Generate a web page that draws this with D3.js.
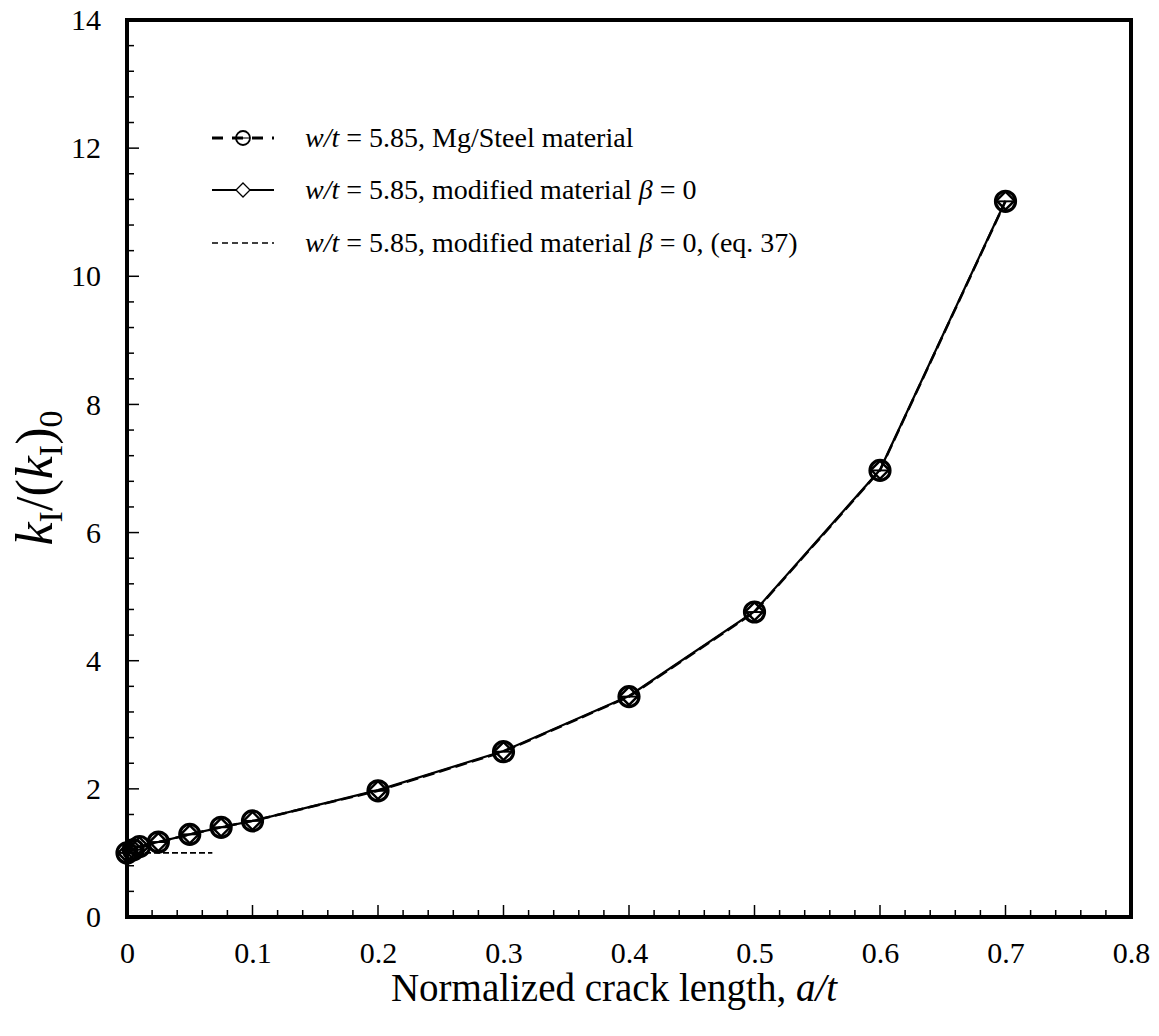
<!DOCTYPE html>
<html><head><meta charset="utf-8">
<script src="https://cdn.jsdelivr.net/npm/d3@7"></script>
<style>body{margin:0;background:#fff}svg{display:block}text{font-family:"Liberation Serif","Times New Roman",serif;fill:#000}</style>
</head><body>
<script>
const xValues = [0, 0.005, 0.01, 0.025, 0.05, 0.075, 0.1, 0.2, 0.3, 0.4, 0.5, 0.6, 0.7];
const mgSteel = [1.0, 1.05, 1.1, 1.17, 1.29, 1.40, 1.50, 1.97, 2.58, 3.44, 4.76, 6.97, 11.17];
const modified = [1.0, 1.05, 1.1, 1.17, 1.29, 1.40, 1.50, 1.98, 2.59, 3.45, 4.77, 6.98, 11.18];
const eq37X = [0, 0.068];
const eq37Y = [1.0, 1.0];
const xTicks = [0, 0.1, 0.2, 0.3, 0.4, 0.5, 0.6, 0.7, 0.8];
const yTicks = [0, 2, 4, 6, 8, 10, 12, 14];
const legendLabels = ["Mg/Steel material", "modified material ", "modified material "];

const W = 1159, H = 1036;
const L = 127, R = 1131, T = 20, B = 917;
const svg = d3.select("body").append("svg").attr("width", W).attr("height", H);
const x = d3.scaleLinear().domain([0, 0.8]).range([L, R]);
const y = d3.scaleLinear().domain([0, 14]).range([B, T]);

// minor ticks
const xMinor = d3.range(0, 0.8001, 0.02);
const yMinor = d3.range(0, 14.001, 0.4);
svg.append("g").selectAll("line").data(xMinor).join("line")
  .attr("x1", d => x(d)).attr("x2", d => x(d))
  .attr("y1", B).attr("y2", d => B - (Math.abs(d*10 - Math.round(d*10)) < 1e-6 ? 12 : 7))
  .attr("stroke", "#000").attr("stroke-width", 1.5);
svg.append("g").selectAll("line").data(yMinor).join("line")
  .attr("y1", d => y(d)).attr("y2", d => y(d))
  .attr("x1", L).attr("x2", d => L + (Math.abs(d/2 - Math.round(d/2)) < 1e-6 ? 12 : 7))
  .attr("stroke", "#000").attr("stroke-width", 1.5);

// axes labels via d3 axes (ticks hidden)
const xAxis = svg.append("g").attr("transform", `translate(0,${B})`)
  .call(d3.axisBottom(x).tickValues(xTicks).tickSize(0).tickPadding(25).tickFormat(d => d === 0 ? "0" : d3.format(".1f")(d)));
const yAxis = svg.append("g").attr("transform", `translate(${L},0)`)
  .call(d3.axisLeft(y).tickValues(yTicks).tickSize(0).tickPadding(26).tickFormat(d3.format("d")));
[xAxis, yAxis].forEach(a => {
  a.select(".domain").remove();
  a.selectAll("text").style("font-family", '"Liberation Serif",serif').style("font-size", "30px").attr("fill", "#000");
});

// frame
svg.append("rect").attr("x", L).attr("y", T).attr("width", R - L).attr("height", B - T)
  .attr("fill", "none").attr("stroke", "#000").attr("stroke-width", 4);

// lines
const line = d3.line().x(d => x(d[0])).y(d => y(d[1]));
svg.append("path").datum(xValues.map((v, i) => [v, modified[i]])).attr("d", line)
  .attr("fill", "none").attr("stroke", "#000").attr("stroke-width", 2.2);
svg.append("path").datum(xValues.map((v, i) => [v, mgSteel[i]])).attr("d", line)
  .attr("fill", "none").attr("stroke", "#000").attr("stroke-width", 2.5).attr("stroke-dasharray", "12,5");
svg.append("path").datum(eq37X.map((v, i) => [v, eq37Y[i]])).attr("d", line)
  .attr("fill", "none").attr("stroke", "#000").attr("stroke-width", 1.8).attr("stroke-dasharray", "6,3");

// markers
function circleMinus(g, cx, cy, r, sw) {
  g.append("circle").attr("cx", cx).attr("cy", cy).attr("r", r).attr("fill", "none").attr("stroke", "#000").attr("stroke-width", sw);
  g.append("line").attr("x1", cx - r).attr("x2", cx + r).attr("y1", cy).attr("y2", cy).attr("stroke", "#000").attr("stroke-width", sw * 0.6);
}
function diamond(g, cx, cy, r, sw, fill) {
  g.append("path").attr("d", `M${cx},${cy - r}L${cx + r},${cy}L${cx},${cy + r}L${cx - r},${cy}Z`)
    .attr("fill", fill).attr("stroke", "#000").attr("stroke-width", sw);
}
const mg = svg.append("g");
xValues.forEach((v, i) => circleMinus(mg, x(v), y(mgSteel[i]), 10, 3.2));
const md = svg.append("g");
xValues.forEach((v, i) => diamond(md, x(v), y(modified[i]), 9, 2.4, "none"));

// legend
const lg = svg.append("g");
const lx1 = 212, lx2 = 274, tx = 305;
const ly = [138, 190, 243];
lg.append("line").attr("x1", lx1).attr("x2", lx2).attr("y1", ly[0]).attr("y2", ly[0]).attr("stroke", "#000").attr("stroke-width", 3).attr("stroke-dasharray", "11,9");
circleMinus(lg, 243, ly[0], 7, 1.8);
lg.append("line").attr("x1", lx1).attr("x2", lx2).attr("y1", ly[1]).attr("y2", ly[1]).attr("stroke", "#000").attr("stroke-width", 2);
diamond(lg, 243, ly[1], 7, 1.3, "#fff");
lg.append("line").attr("x1", lx1).attr("x2", lx2).attr("y1", ly[2]).attr("y2", ly[2]).attr("stroke", "#000").attr("stroke-width", 1.5).attr("stroke-dasharray", "6,4");

ly.forEach((yy, i) => {
  const t = lg.append("text").attr("x", tx).attr("y", yy + 9).style("font-size", "28px");
  t.append("tspan").style("font-style", "italic").text("w/t");
  t.append("tspan").text(" = 5.85, " + legendLabels[i]);
  if (i > 0) {
    t.append("tspan").style("font-style", "italic").text("β");
    t.append("tspan").text(" = 0" + (i === 2 ? ", (eq. 37)" : ""));
  }
});

// x label
const xl = svg.append("text").attr("x", 614).attr("y", 1001).attr("text-anchor", "middle").style("font-size", "39px");
xl.append("tspan").text("Normalized crack length, ");
xl.append("tspan").style("font-style", "italic").text("a/t");

// y label
const yl = svg.append("text").attr("transform", `translate(52,478) rotate(-90)`).attr("text-anchor", "middle").style("font-size", "52px");
yl.append("tspan").style("font-style", "italic").text("k");
yl.append("tspan").attr("dy", 10).style("font-size", "34px").text("I");
yl.append("tspan").attr("dy", -10).text("/(");
yl.append("tspan").style("font-style", "italic").text("k");
yl.append("tspan").attr("dy", 10).style("font-size", "34px").text("I");
yl.append("tspan").attr("dy", -10).text(")");
yl.append("tspan").attr("dy", 10).style("font-size", "34px").text("0");
</script>
</body></html>
